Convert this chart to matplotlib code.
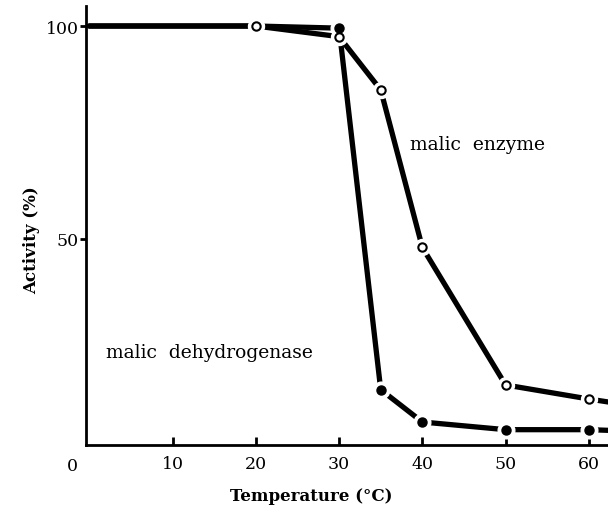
import numpy as np
import matplotlib
matplotlib.use("Agg")
import matplotlib.pyplot as plt
from matplotlib import transforms

# temperature (deg C) and remaining activity (%)
temps = [0, 20, 30, 35, 40, 50, 60, 63]
mdh_activity = [100, 100, 99.5, 14.6, 7.0, 5.2, 5.2, 5.0]
me_activity = [100, 100, 97.5, 85, 48, 15.7, 12.4, 11.5]
xticks = [10, 20, 30, 40, 50, 60]
yticks = [50, 100]

serif = ['DejaVu Serif', 'Liberation Serif']

fig = plt.figure(figsize=(6.08, 5.10), dpi=100)
ax = fig.add_axes([86 / 608, 64 / 510, 1 - 86 / 608, 439 / 510])

marks = list(range(1, len(temps) - 1))
# lines
ax.plot(temps, mdh_activity, color='black', lw=3.8, solid_capstyle='round', zorder=2)
ax.plot(temps, me_activity, color='black', lw=3.8, solid_capstyle='round', zorder=2)
# white gaps round the points
ax.plot(temps, mdh_activity, ls='none', marker='o', ms=12, mfc='white', mec='white',
        markevery=marks[1:], zorder=3)
ax.plot(temps, me_activity, ls='none', marker='o', ms=11.5, mfc='white', mec='white',
        markevery=marks, zorder=3)
# the points themselves
ax.plot(temps, mdh_activity, ls='none', marker='o', ms=6.5, mfc='black', mec='black',
        markevery=marks[1:], zorder=4)
ax.plot(temps, me_activity, ls='none', marker='o', ms=6, mfc='white', mec='black',
        mew=1.5, markevery=marks, zorder=4)

ax.set_xlim(-0.4, 62.3)
ax.set_ylim(1.6, 104.7)

for s in ['top', 'right']:
    ax.spines[s].set_visible(False)
for s in ['left', 'bottom']:
    ax.spines[s].set_linewidth(2.0)
    ax.spines[s].set_zorder(5)

ax.set_xticks(xticks)
ax.set_yticks(yticks)
ax.tick_params(axis='x', direction='in', length=6, width=2, pad=7)
ax.tick_params(axis='y', direction='out', length=4, width=2, pad=1)
for lab in ax.get_xticklabels() + ax.get_yticklabels():
    lab.set_family(serif)
    lab.set_fontsize(12.5)

trans = transforms.blended_transform_factory(ax.transData, ax.transAxes)
ax.text(-2.0, -0.027, '0', transform=trans, ha='center', va='top',
        family=serif, fontsize=12.5, clip_on=False)

ax.text(38.5, 72.3, 'malic  enzyme', family=serif, fontsize=13.5, va='center')
ax.text(2.0, 23.5, 'malic  dehydrogenase', family=serif, fontsize=13.5, va='center')

fig.text(0.512, 0.027, 'Temperature (°C)', family=serif, fontsize=12,
         fontweight='bold', ha='center', va='center')
fig.text(0.052, 0.53, 'Activity (%)', family=serif, fontsize=12,
         fontweight='bold', ha='center', va='center', rotation=90)

fig.savefig('out.png', dpi=100)
